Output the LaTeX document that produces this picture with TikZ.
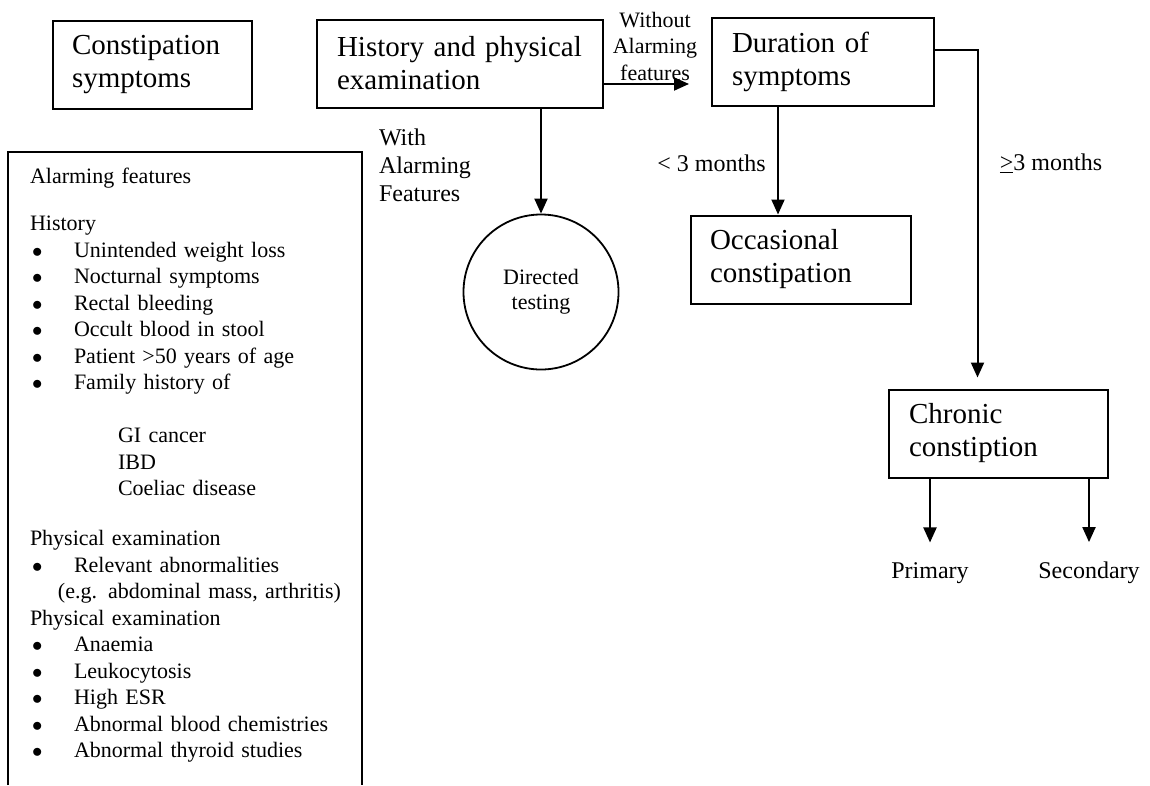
\documentclass[tikz,border=0pt]{standalone}
\usepackage{fontspec}
\setmainfont{Liberation Serif}
\usetikzlibrary{arrows.meta}

\newcommand{\boxfont}{\fontsize{29pt}{33pt}\selectfont}
\newcommand{\listfont}{\fontsize{22pt}{26.5pt}\selectfont}
\newcommand{\lblfont}{\fontsize{24pt}{28pt}\selectfont}
\newcommand{\wofont}{\fontsize{22pt}{26.5pt}\selectfont}
\newcommand{\bul}{\makebox[44pt][l]{\hspace{2pt}$\bullet$}}

\begin{document}
\begin{tikzpicture}[x=1pt,y=-1pt,line width=2pt,
	main box/.style={draw,rectangle,align=left,text width=#1,
		inner xsep=20pt,inner ysep=0pt,minimum height=88pt,font=\boxfont},
	label text/.style={inner sep=0pt,font=\lblfont},
	arrow line/.style={-{Triangle[length=15pt,width=13pt]}}]
	
	\fill[white] (0,0) rectangle (1150,785);
	\useasboundingbox (0,0) rectangle (1150,785);
	
	% boxes
	\node[main box=161pt,inner xsep=19pt] (cs) at (152.5,65) {Constipation\\symptoms};
	\node[main box=246pt] (hpe) at (460,63.5) {History and physical\\examination};
	\node[main box=182pt] (dur) at (823,62) {Duration of\\symptoms};
	\node[main box=182pt,inner xsep=19pt] (occ) at (801,259.5) {Occasional\\constipation};
	\node[main box=179pt] (chr) at (998.5,433.5) {Chronic\\constiption};
	\node[circle,draw,line width=1.8pt,minimum size=155pt,inner sep=0pt,align=center,
		font=\fontsize{22pt}{25pt}\selectfont] (dt) at (541,292) {Directed\\testing};
	
	% labels
	\node[label text,align=center,font=\wofont] (wo) at (655,46) {Without\\Alarming\\features};
	\node[label text,align=left,anchor=west] (wi) at (378,165) {With\\Alarming\\Features};
	\node[label text] (lt) at (711.5,163) {< 3 months};
	\node[label text] (ge) at (1051,163) {\underline{>}3 months};
	\node[label text] (pri) at (930,573) {Primary};
	\node[label text] (sec) at (1089,573) {Secondary};
	
	% alarming features list
	\draw (8,785) -- (8,152) -- (362,152) -- (362,785);
	\node[anchor=base west,inner sep=0pt,text width=330pt,align=left,font=\listfont] (af) at (29,183) {%
		Alarming features\\[21pt]
		History\\
		\bul Unintended weight loss\\
		\bul Nocturnal symptoms\\
		\bul Rectal bleeding\\
		\bul Occult blood in stool\\
		\bul Patient >50 years of age\\
		\bul Family history of\\[26.5pt]
		\hspace*{88pt}GI cancer\\
		\hspace*{88pt}IBD\\
		\hspace*{88pt}Coeliac disease\\[23.5pt]
		Physical examination\\
		\bul Relevant abnormalities\\
		\hspace*{28pt}(e.g. abdominal mass, arthritis)\\
		Physical examination\\
		\bul Anaemia\\
		\bul Leukocytosis\\
		\bul High ESR\\
		\bul Abnormal blood chemistries\\
		\bul Abnormal thyroid studies};
	
	% connectors
	\draw[arrow line,shorten >=22pt] ([yshift=-20.5pt]hpe.east) -- ([yshift=-20.5pt]hpe.east -| dur.west);
	\draw[arrow line] (hpe.south -| dt.north) -- (dt.north);
	\draw[arrow line] ([xshift=-45pt]dur.south) -- ([xshift=-45pt]dur.south |- occ.north);
	\draw[arrow line,shorten >=11pt] ([yshift=12pt]dur.east) -| ([xshift=-21pt]chr.north);
	\draw[arrow line,shorten >=19pt] (chr.south -| pri.north) -- (pri.north);
	\draw[arrow line,shorten >=19pt] (chr.south -| sec.north) -- (sec.north);
\end{tikzpicture}
\end{document}
